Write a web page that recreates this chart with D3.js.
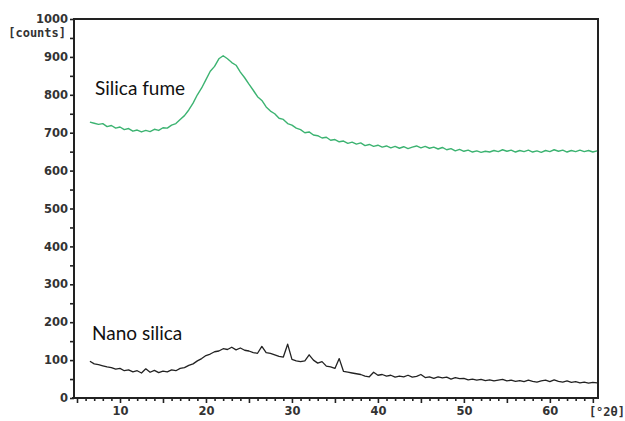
<!DOCTYPE html>
<html>
<head>
<meta charset="utf-8">
<script src="https://cdn.jsdelivr.net/npm/d3@7"></script>
<style>
body{margin:0;background:#fff}
svg{display:block}
.tk text{font-family:"DejaVu Sans",sans-serif;font-weight:bold;font-size:11.5px;fill:#333}
.tk line{stroke:#222;stroke-width:1.6}
.tk path{display:none}
</style>
</head>
<body>
<div id="chart"></div>
<script>
var width = 625
var height = 421

// 2theta grid, degrees
var angles = [6.5,7,7.5,8,8.5,9,9.5,10,10.5,11,11.5,12,12.5,13,13.5,14,14.5,15,15.5,16,16.5,17,17.5,18,18.5,19,19.5,20,20.5,21,21.5,22,22.5,23,23.5,24,24.5,25,25.5,26,26.5,27,27.5,28,28.5,29,29.5,30,30.5,31,31.5,32,32.5,33,33.5,34,34.5,35,35.5,36,36.5,37,37.5,38,38.5,39,39.5,40,40.5,41,41.5,42,42.5,43,43.5,44,44.5,45,45.5,46,46.5,47,47.5,48,48.5,49,49.5,50,50.5,51,51.5,52,52.5,53,53.5,54,54.5,55,55.5,56,56.5,57,57.5,58,58.5,59,59.5,60,60.5,61,61.5,62,62.5,63,63.5,64,64.5,65,65.5]

var silicaFume = [728,725,722,724,716,719,712,715,708,711,704,707,702,706,703,709,706,713,712,720,724,735,745,760,778,800,818,840,862,875,895,903,895,885,878,860,845,828,812,795,785,768,757,750,738,735,724,720,712,708,700,702,694,692,686,688,680,682,676,678,672,675,670,673,666,669,664,667,662,665,660,664,659,663,658,662,665,660,664,659,662,657,661,655,658,652,656,651,654,649,652,648,651,649,653,650,655,651,654,649,653,650,654,649,652,648,653,650,655,651,654,649,653,650,654,650,653,649,652]

var nanoSilica = [97,90,88,85,82,80,76,78,72,74,69,72,66,77,68,73,67,71,69,74,72,78,80,86,90,98,104,112,116,122,124,130,128,134,127,132,126,124,120,118,136,120,118,114,110,108,142,102,98,96,98,114,100,92,96,84,82,78,104,70,68,66,64,62,58,56,68,60,62,58,60,55,58,56,60,55,57,62,54,56,52,56,53,55,50,54,51,52,48,50,47,49,46,48,45,47,49,45,47,44,46,43,47,44,42,45,47,43,48,44,42,45,41,43,40,42,39,41,40]

var yTicks = [0,50,100,150,200,250,300,350,400,450,500,550,600,650,700,750,800,850,900,950,1000]
var xTicks = [5,6,7,8,9,10,11,12,13,14,15,16,17,18,19,20,21,22,23,24,25,26,27,28,29,30,31,32,33,34,35,36,37,38,39,40,41,42,43,44,45,46,47,48,49,50,51,52,53,54,55,56,57,58,59,60,61,62,63,64,65]

var svg = d3.select("#chart").append("svg")
	.attr("width",width)
	.attr("height",height)

var pLeft = 74, pRight = 598, pTop = 19, pBottom = 398
var x = d3.scaleLinear().domain([4.65,65.6]).range([pLeft,pRight])
var y = d3.scaleLinear().domain([0,1000]).range([pBottom,pTop])

// y axis
var yAxis = svg.append("g")
	.attr("class","tk")
	.attr("transform","translate("+pLeft+",0)")
	.call(d3.axisLeft(y).tickValues(yTicks).tickSize(4).tickPadding(2)
		.tickFormat(function(d){ return d%100==0 ? d : "" }))

// x axis
var xAxis = svg.append("g")
	.attr("class","tk")
	.attr("transform","translate(0,"+pBottom+")")
	.call(d3.axisBottom(x).tickValues(xTicks).tickSize(3).tickPadding(6)
		.tickFormat(function(d){ return d%10==0 ? d : "" }))
xAxis.selectAll(".tick line").attr("y2",function(d){ return d%5==0 ? 5 : 3 })
xAxis.selectAll(".tick text").attr("dy","0.71em").attr("y",9)

// frame
svg.append("path")
	.attr("d","M"+(pLeft-2)+","+pBottom+"H"+pRight+"V"+pTop+"H"+pLeft+"V"+pBottom)
	.attr("fill","none")
	.attr("stroke","#222")
	.attr("stroke-width",2)

var line = d3.line()
	.x(function(d){ return x(d[0]) })
	.y(function(d){ return y(d[1]) })

svg.append("path")
	.datum(angles.map(function(a,i){ return [a,silicaFume[i]] }))
	.attr("d",line)
	.attr("fill","none")
	.attr("stroke","#3cb371")
	.attr("stroke-width",1.4)
	.attr("stroke-linejoin","round")

svg.append("path")
	.datum(angles.map(function(a,i){ return [a,nanoSilica[i]] }))
	.attr("d",line)
	.attr("fill","none")
	.attr("stroke","#222")
	.attr("stroke-width",1.3)
	.attr("stroke-linejoin","round")

// unit labels
svg.append("text")
	.attr("x",66).attr("y",37)
	.attr("text-anchor","end")
	.style("font-family","'DejaVu Sans Mono',monospace")
	.style("font-weight","bold")
	.style("font-size","12px")
	.style("fill","#333")
	.text("[counts]")
svg.append("text")
	.attr("x",625).attr("y",416)
	.attr("text-anchor","end")
	.style("font-family","'DejaVu Sans Mono',monospace")
	.style("font-weight","bold")
	.style("font-size","12px")
	.style("fill","#333")
	.text("[°2θ]")

// series annotations
svg.append("text")
	.attr("x",95).attr("y",95)
	.style("font-family","Lato,sans-serif")
	.style("font-size","19px")
	.style("fill","#111")
	.text("Silica fume")
svg.append("text")
	.attr("x",92).attr("y",340)
	.style("font-family","Lato,sans-serif")
	.style("font-size","19px")
	.style("fill","#111")
	.text("Nano silica")
</script>
</body>
</html>
